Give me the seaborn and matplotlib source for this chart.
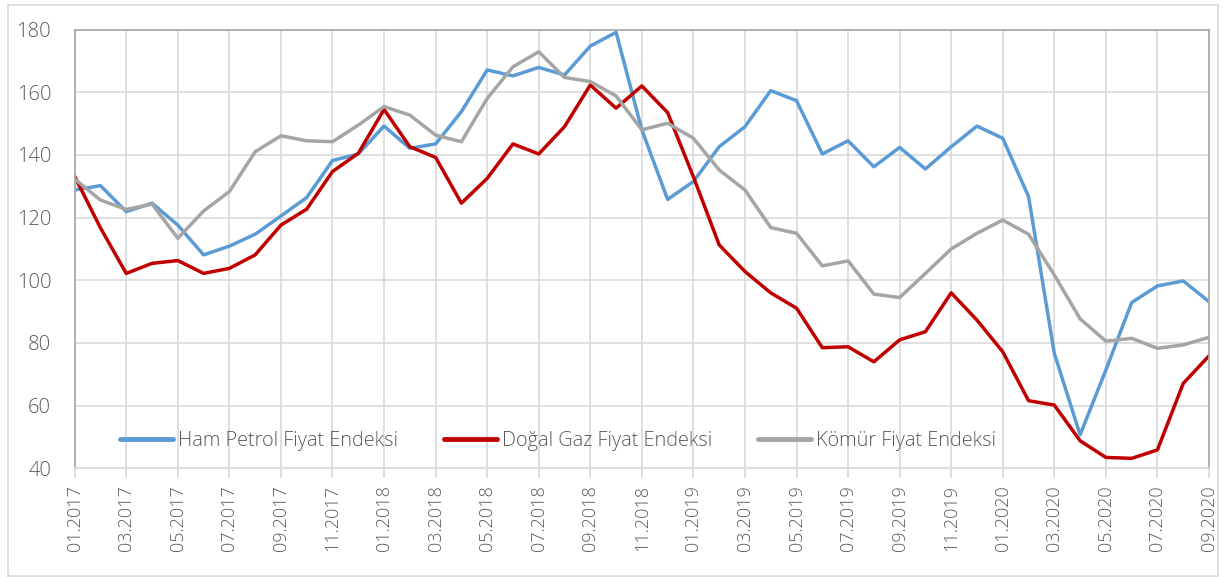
import matplotlib
matplotlib.use('Agg')
import matplotlib.pyplot as plt
import numpy as np
import pandas as pd
import seaborn as sns

# Monthly price indices, 01.2017 - 09.2020
months = pd.date_range('2017-01-01', '2020-09-01', freq='MS').strftime('%m.%Y').tolist()

ham_petrol = [128.8, 130.2, 121.9, 124.6, 117.6, 108.1, 110.9, 114.7, 120.5, 126.4, 138.2, 140.3, 149.2, 142.1,
              143.5, 153.8, 167.1, 165.2, 167.9, 165.5, 174.7, 179.1, 148.0, 125.8, 131.5, 142.6, 149.0, 160.5, 157.3,
              140.3, 144.5, 136.2, 142.4, 135.5, 142.6, 149.2, 145.3, 126.7, 76.7, 50.7, 71.4, 92.9, 98.2, 99.8, 93.2]
dogal_gaz = [133.1, 116.7, 102.2, 105.4, 106.3, 102.2, 103.8, 108.1, 117.6, 122.7, 134.7, 140.5, 154.5, 142.6,
             139.2, 124.6, 132.5, 143.5, 140.3, 149.0, 162.3, 154.9, 162.0, 153.5, 133.0, 111.3, 102.8, 96.0, 91.1,
             78.5, 78.8, 74.0, 81.0, 83.6, 96.0, 87.3, 77.2, 61.6, 60.2, 48.8, 43.5, 43.2, 45.9, 67.1, 75.9]
komur = [132.3, 125.6, 122.6, 124.3, 113.4, 122.1, 128.3, 141.0, 146.1, 144.5, 144.2, 149.5, 155.4, 152.7,
         146.3, 144.2, 158.0, 168.1, 172.9, 164.7, 163.4, 158.8, 148.0, 150.1, 145.3, 135.2, 128.8, 116.8, 115.0,
         104.6, 106.2, 95.6, 94.5, 102.2, 110.0, 115.0, 119.2, 114.7, 101.7, 87.7, 80.6, 81.5, 78.3, 79.4, 81.8]

series_names = ['Ham Petrol Fiyat Endeksi', 'Doğal Gaz Fiyat Endeksi', 'Kömür Fiyat Endeksi']
colors = ['#5B9BD5', '#C00000', '#A5A5A5']

df = pd.DataFrame({'idx': np.arange(len(months)),
                   series_names[0]: ham_petrol,
                   series_names[1]: dogal_gaz,
                   series_names[2]: komur})
long = df.melt(id_vars='idx', var_name='seri', value_name='deger')

sns.set_style('white')
plt.rcParams['font.family'] = ['Open Sans', 'DejaVu Sans']
plt.rcParams['font.weight'] = 'light'
text_col = '#595959'

fig = plt.figure(figsize=(12.23, 5.77), dpi=100)
ax = fig.add_axes([74.7 / 1223, 1 - 468.4 / 577, (1209 - 74.7) / 1223, (468.4 - 29.5) / 577])

sns.lineplot(data=long, x='idx', y='deger', hue='seri', palette=colors, linewidth=2.5, ax=ax)

ax.set_xlim(0, len(months) - 1)
ax.set_ylim(40, 180)
ax.set_yticks(range(40, 181, 20))
ax.set_xticks(range(0, len(months), 2))
ax.set_xticklabels(months[::2], rotation=90)
ax.set_xlabel('')
ax.set_ylabel('')
ax.grid(True, color='#D9D9D9', linewidth=1.2)
ax.set_axisbelow(True)
ax.tick_params(axis='y', length=0, pad=17, labelsize=14.5, labelcolor=text_col)
ax.tick_params(axis='x', direction='out', length=7, color='#D9D9D9', width=1.2, pad=5,
               labelsize=13, labelcolor=text_col, bottom=True)
for side in ['top', 'left', 'right']:
    ax.spines[side].set_color('#A6A6A6')
    ax.spines[side].set_linewidth(1.2)
ax.spines['bottom'].set_color('#D9D9D9')
ax.spines['bottom'].set_linewidth(1.2)

leg = ax.legend(loc='center left', bbox_to_anchor=(0.040, 0.0624), ncol=3, frameon=False,
                fontsize=14.3, handlelength=2.67, handletextpad=0.25, columnspacing=2.3,
                borderpad=0, borderaxespad=0, labelcolor=text_col)
for h in leg.get_lines():
    h.set_linewidth(3.5)

# outer chart border
fig.add_artist(plt.Rectangle((8 / 1223, 1 - 576 / 577), 1210 / 1223, 571 / 577,
                             transform=fig.transFigure, fill=False, edgecolor='#D9D9D9', linewidth=1.2))

fig.savefig('out.png', dpi=100)
